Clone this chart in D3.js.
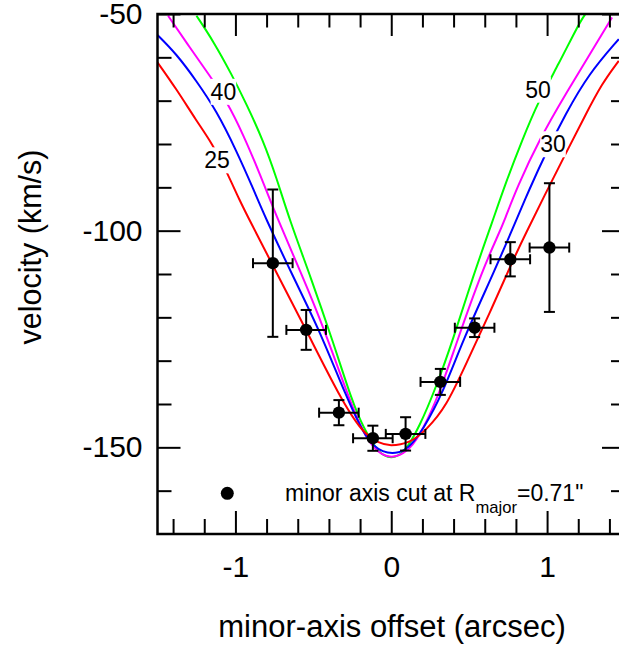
<!DOCTYPE html>
<html><head><meta charset="utf-8">
<script src="https://cdn.jsdelivr.net/npm/d3@7"></script>
<style>
body{margin:0;background:#fff}
svg{display:block}
text{font-family:"Liberation Sans",Arial,Helvetica,sans-serif;fill:#000}
</style>
</head><body>
<svg id="chart" width="619" height="648"></svg>
<script>
// ---- observed points (minor axis cut) ----
const obsX    = [-0.760, -0.546, -0.336, -0.118, 0.092, 0.315, 0.535, 0.764, 1.015];
const obsV    = [-107.5, -122.9, -142.0, -147.9, -146.9, -134.9, -122.4, -106.6, -103.9];
const obsXErr = [0.127, 0.127, 0.127, 0.127, 0.127, 0.127, 0.127, 0.127, 0.127];
const obsVErr = [17.0, 4.6, 2.9, 2.9, 3.85, 3.0, 2.15, 3.95, 14.85];

// ---- model curves ----
const curve25X = [-1.507,-1.379,-1.251,-1.154,-1.058,-0.972,-0.910,-0.735,-0.546,-0.332,-0.182,-0.075,-0.011,0.118,0.225,0.353,0.482,0.631,0.781,0.861,0.989,1.118,1.246,1.353,1.460];
const curve25V = [-60.8,-67.3,-74.6,-79.6,-86.2,-93.1,-97.5,-109.8,-122.9,-138.3,-146.8,-149.1,-149.7,-149.1,-146.0,-140.6,-130.6,-119.1,-106.8,-100.8,-91.5,-82.3,-73.3,-66.0,-60.8];

const curve30X = [-1.507,-1.379,-1.251,-1.122,-0.994,-0.880,-0.814,-0.632,-0.461,-0.289,-0.161,-0.054,0.053,0.118,0.203,0.331,0.460,0.665,0.803,0.882,0.989,1.118,1.267,1.460];
const curve30V = [-54.6,-59.2,-65.4,-72.3,-81.5,-90.8,-96.5,-110.5,-122.9,-138.3,-148.3,-151.4,-151.4,-149.9,-146.0,-137.5,-125.2,-109.1,-97.5,-90.8,-82.3,-73.1,-63.8,-55.8];

const curve40X = [-1.432,-1.294,-1.165,-1.058,-0.951,-0.844,-0.728,-0.578,-0.428,-0.268,-0.161,-0.054,0.032,0.118,0.203,0.310,0.417,0.588,0.689,0.728,0.807,0.957,1.118,1.288,1.417];
const curve40V = [-50.4,-57.7,-64.2,-70.0,-77.7,-86.8,-97.5,-109.8,-122.9,-139.1,-148.3,-152.2,-152.3,-150.6,-146.0,-137.5,-126.0,-108.8,-100.8,-97.5,-90.0,-78.5,-68.5,-58.5,-50.8];

const curve50X = [-1.250,-1.143,-1.026,-0.929,-0.822,-0.737,-0.653,-0.514,-0.375,-0.247,-0.182,-0.080,0.000,0.080,0.182,0.289,0.396,0.524,0.653,0.732,0.839,0.946,1.075,1.203,1.246];
const curve50V = [-50.4,-56.2,-63.8,-70.8,-79.2,-87.7,-97.5,-111.0,-125.5,-139.8,-145.2,-151.6,-152.6,-151.6,-145.2,-136.0,-125.2,-110.6,-97.5,-89.2,-79.2,-70.0,-61.5,-52.3,-50.0];

const curveNames  = ["50", "40", "30", "25"];
const curveColors = ["#00ff00", "#ff00ff", "#0000ff", "#ff0000"];
// label anchor points (data coords of label centre)
const labelX = [0.942, -1.077, 1.038, -1.118];
const labelV = [-67.4, -67.9, -80.0, -83.7];

// ---- axes ----
const xDomain = [-1.5, 1.5];
const yDomain = [-170, -50];
const xMajor = [-1, 0, 1];
const xMinor = [-1.4,-1.2,-0.8,-0.6,-0.4,-0.2,0.2,0.4,0.6,0.8,1.2,1.4];
const yMajor = [-150, -100, -50];
const yMinor = [-160,-140,-130,-120,-110,-90,-80,-70,-60];
const xTitle = "minor-axis offset (arcsec)";
const yTitle = "velocity (km/s)";

const svg = d3.select("#chart");
const L = 157.5, R = 625, T = 14, B = 534;
const x = d3.scaleLinear().domain(xDomain).range([L, R]);
const y = d3.scaleLinear().domain(yDomain).range([B, T]);
const fmt = d => String(d);

svg.append("defs").append("clipPath").attr("id","plotclip")
  .append("rect").attr("x",L).attr("y",T).attr("width",R-L).attr("height",B-T);

// curves
const curvesData = [
  {xs: curve50X, vs: curve50V},
  {xs: curve40X, vs: curve40V},
  {xs: curve30X, vs: curve30V},
  {xs: curve25X, vs: curve25V}
];
const line = d3.line().x(d => x(d[0])).y(d => y(d[1])).curve(d3.curveBasis);
const cg = svg.append("g").attr("clip-path","url(#plotclip)");
curvesData.forEach((c, i) => {
  cg.append("path")
    .attr("d", line(c.xs.map((v, j) => [v, c.vs[j]])))
    .attr("fill","none").attr("stroke", curveColors[i]).attr("stroke-width", 2);
});

// curve labels with white background
curveNames.forEach((n, i) => {
  const g = svg.append("g");
  const t = g.append("text").attr("x", x(labelX[i])).attr("y", y(labelV[i]))
    .attr("text-anchor","middle").attr("dy","0.36em").attr("font-size",23).text(n);
  const bb = t.node().getBBox();
  g.insert("rect","text").attr("x",bb.x).attr("y",bb.y).attr("width",bb.width).attr("height",bb.height).attr("fill","#fff");
});

// axes
function styleAxis(g){ g.select(".domain").remove(); g.selectAll("line").attr("stroke","#000").attr("stroke-width",2); }
svg.append("g").attr("transform",`translate(${L},0)`)
  .call(d3.axisLeft(y).tickValues(yMinor).tickSize(-14).tickFormat("")).call(styleAxis);
svg.append("g").attr("transform",`translate(${L},0)`)
  .call(d3.axisLeft(y).tickValues(yMajor).tickSize(-23).tickPadding(15).tickFormat(fmt))
  .call(styleAxis)
  .call(g => g.selectAll("text").attr("font-size",30).attr("font-family","Liberation Sans, Arial, sans-serif"));
svg.append("g").attr("transform",`translate(${R},0)`)
  .call(d3.axisRight(y).tickValues(yMinor).tickSize(-14).tickFormat("")).call(styleAxis);
svg.append("g").attr("transform",`translate(${R},0)`)
  .call(d3.axisRight(y).tickValues(yMajor).tickSize(-23).tickFormat("")).call(styleAxis);
svg.append("g").attr("transform",`translate(0,${B})`)
  .call(d3.axisBottom(x).tickValues(xMinor).tickSize(-15).tickFormat("")).call(styleAxis);
svg.append("g").attr("transform",`translate(0,${B})`)
  .call(d3.axisBottom(x).tickValues(xMajor).tickSize(-23).tickPadding(22).tickFormat(fmt))
  .call(styleAxis)
  .call(g => g.selectAll("text").attr("font-size",30).attr("font-family","Liberation Sans, Arial, sans-serif"));
svg.append("g").attr("transform",`translate(0,${T})`)
  .call(d3.axisTop(x).tickValues(xMinor).tickSize(-13.5).tickFormat("")).call(styleAxis);
svg.append("g").attr("transform",`translate(0,${T})`)
  .call(d3.axisTop(x).tickValues(xMajor).tickSize(-22).tickFormat("")).call(styleAxis);

// frame
svg.append("rect").attr("x",L).attr("y",T).attr("width",R-L).attr("height",B-T)
  .attr("fill","none").attr("stroke","#000").attr("stroke-width",2.5);

// observed points with error bars
const pts = obsX.map((v,i)=>({x:v, v:obsV[i], ex:obsXErr[i], ev:obsVErr[i]}));
const eg = svg.append("g").attr("stroke","#000").attr("stroke-width",2).attr("fill","none");
pts.forEach(p => {
  const cx = x(p.x), cy = y(p.v);
  const x0 = x(p.x - p.ex), x1 = x(p.x + p.ex);
  const y0 = y(p.v - p.ev), y1 = y(p.v + p.ev);
  eg.append("line").attr("x1",x0).attr("x2",x1).attr("y1",cy).attr("y2",cy);
  eg.append("line").attr("x1",x0).attr("x2",x0).attr("y1",cy-5).attr("y2",cy+5);
  eg.append("line").attr("x1",x1).attr("x2",x1).attr("y1",cy-5).attr("y2",cy+5);
  eg.append("line").attr("x1",cx).attr("x2",cx).attr("y1",y0).attr("y2",y1);
  eg.append("line").attr("x1",cx-5.5).attr("x2",cx+5.5).attr("y1",y0).attr("y2",y0);
  eg.append("line").attr("x1",cx-5.5).attr("x2",cx+5.5).attr("y1",y1).attr("y2",y1);
});
svg.append("g").selectAll("circle").data(pts).join("circle")
  .attr("cx",d=>x(d.x)).attr("cy",d=>y(d.v)).attr("r",6.2).attr("fill","#000");

// legend
svg.append("circle").attr("cx",227.3).attr("cy",493.3).attr("r",6.5).attr("fill","#000");
const lt = svg.append("text").attr("x",285).attr("y",501).attr("font-size",23);
lt.append("tspan").text("minor axis cut at R");
lt.append("tspan").attr("font-size",16.6).attr("dy",12).text("major");
lt.append("tspan").attr("dy",-12).text("=0.71\"");

// axis titles
svg.append("text").attr("x",392).attr("y",637).attr("text-anchor","middle")
  .attr("font-size",31).text(xTitle);
svg.append("text").attr("transform","translate(41,247) rotate(-90)").attr("text-anchor","middle")
  .attr("font-size",30.5).text(yTitle);
</script>
</body></html>
